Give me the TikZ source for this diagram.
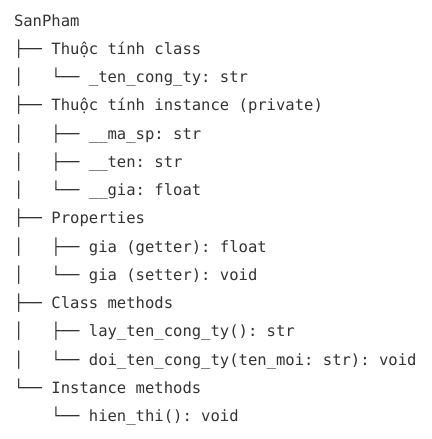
\documentclass[tikz,border=0pt]{standalone}
\usepackage{fontspec}
\setmonofont{DejaVu Sans Mono}
\definecolor{treetext}{HTML}{333333}
\tikzset{
  treeline/.style={anchor=base west, inner sep=0pt, outer sep=0pt,
    font=\ttfamily\fontsize{15.55pt}{18pt}\selectfont, text=treetext},
}
\begin{document}
\begin{tikzpicture}[x=1pt,y=1pt]
  \useasboundingbox (0,0) rectangle (431,-439);
  % one line of the class outline per node; baselines 28.26pt apart
  \def\lx{14}
  \node[treeline] (l1)  at (\lx,-26.00)  {SanPham};
  \node[treeline] (l2)  at (\lx,-54.26)  {├──~Thuộc~tính~class};
  \node[treeline] (l3)  at (\lx,-82.52)  {│~~~└──~\_ten\_cong\_ty:~str};
  \node[treeline] (l4)  at (\lx,-110.78) {├──~Thuộc~tính~instance~(private)};
  \node[treeline] (l5)  at (\lx,-139.04) {│~~~├──~\_\_ma\_sp:~str};
  \node[treeline] (l6)  at (\lx,-167.30) {│~~~├──~\_\_ten:~str};
  \node[treeline] (l7)  at (\lx,-195.56) {│~~~└──~\_\_gia:~float};
  \node[treeline] (l8)  at (\lx,-223.82) {├──~Properties};
  \node[treeline] (l9)  at (\lx,-252.08) {│~~~├──~gia~(getter):~float};
  \node[treeline] (l10) at (\lx,-280.34) {│~~~└──~gia~(setter):~void};
  \node[treeline] (l11) at (\lx,-308.60) {├──~Class~methods};
  \node[treeline] (l12) at (\lx,-336.86) {│~~~├──~lay\_ten\_cong\_ty():~str};
  \node[treeline] (l13) at (\lx,-365.12) {│~~~└──~doi\_ten\_cong\_ty(ten\_moi:~str):~void};
  \node[treeline] (l14) at (\lx,-393.38) {└──~Instance~methods};
  \node[treeline] (l15) at (\lx,-421.64) {~~~~└──~hien\_thi():~void};
\end{tikzpicture}
\end{document}
